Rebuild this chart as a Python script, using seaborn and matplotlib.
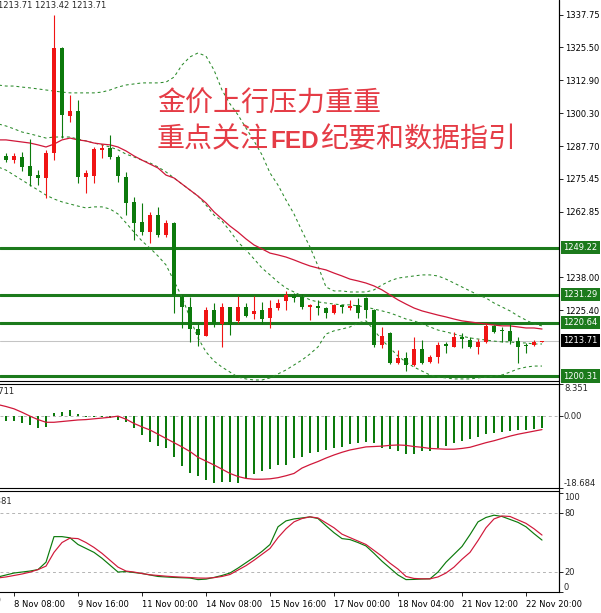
import numpy as np
import pandas as pd
import seaborn as sns
import matplotlib
matplotlib.use("Agg")
import matplotlib.pyplot as plt
from matplotlib.lines import Line2D
from matplotlib.transforms import blended_transform_factory

# XAUUSD H4 candles, bar -1 .. 67
opens = [1283.8, 1284.1, 1282.6, 1283.7, 1280.3, 1276.8, 1275.7, 1285.2, 1325.2, 1299.3,
         1301.2, 1276.1, 1276.5, 1286.4, 1287.1, 1283.7, 1276.1, 1266.6, 1258.9, 1255.1,
         1261.6, 1254.0, 1258.6, 1230.4, 1226.6, 1218.2, 1215.5, 1225.4, 1220.1, 1226.6,
         1221.2, 1226.6, 1223.9, 1225.4, 1222.4, 1226.2, 1228.9, 1230.8, 1230.4, 1226.6,
         1227.0, 1226.2, 1224.3, 1227.3, 1226.2, 1227.3, 1230.0, 1225.4, 1212.1, 1216.7,
         1205.3, 1207.2, 1204.5, 1210.6, 1205.6, 1207.5, 1212.5, 1211.4, 1215.2, 1214.0,
         1211.4, 1213.3, 1219.4, 1217.8, 1217.4, 1213.6, 1212.1, 1212.1, 1213.42]
highs = [1284.6, 1285.2, 1285.3, 1285.6, 1290.5, 1278.7, 1286.3, 1337.75, 1325.6, 1307.3,
         1305.4, 1278.7, 1287.5, 1288.6, 1292.1, 1284.4, 1278.0, 1268.5, 1266.2, 1262.7,
         1264.7, 1259.7, 1258.9, 1231.2, 1230.4, 1220.1, 1226.6, 1228.1, 1228.1, 1226.6,
         1230.8, 1228.1, 1230.8, 1228.5, 1229.2, 1229.6, 1232.7, 1231.9, 1231.6, 1227.7,
         1229.2, 1226.6, 1227.7, 1227.3, 1229.2, 1230.0, 1230.4, 1225.8, 1219.0, 1217.1,
         1210.2, 1209.4, 1215.2, 1214.0, 1208.3, 1213.3, 1213.3, 1217.1, 1216.7, 1215.2,
         1214.4, 1220.5, 1219.7, 1218.9, 1220.5, 1215.2, 1212.9, 1214.0, 1213.71]
lows = [1282.2, 1281.8, 1281.5, 1278.3, 1272.6, 1273.0, 1268.1, 1282.5, 1290.9, 1297.0,
        1273.8, 1270.0, 1273.8, 1283.3, 1282.9, 1274.2, 1261.6, 1252.1, 1254.0, 1250.9,
        1253.2, 1253.2, 1224.3, 1218.6, 1213.3, 1211.7, 1215.5, 1218.9, 1211.4, 1216.0,
        1220.5, 1222.8, 1222.0, 1220.1, 1218.6, 1225.4, 1225.4, 1228.5, 1225.8, 1221.6,
        1223.5, 1222.4, 1223.9, 1224.3, 1225.4, 1222.4, 1222.4, 1211.4, 1211.0, 1205.0,
        1205.0, 1202.2, 1204.1, 1205.0, 1205.3, 1205.3, 1209.1, 1211.4, 1211.0, 1211.0,
        1208.7, 1212.9, 1216.7, 1213.3, 1212.5, 1205.3, 1209.1, 1211.7, 1213.42]
closes = [1283.0, 1282.5, 1284.1, 1279.9, 1276.4, 1275.7, 1285.2, 1325.2, 1299.7, 1301.2,
          1276.1, 1277.6, 1286.7, 1287.1, 1283.7, 1276.5, 1266.2, 1258.6, 1255.1, 1261.6,
          1254.0, 1258.6, 1231.2, 1226.6, 1218.2, 1215.9, 1225.4, 1220.1, 1226.6, 1219.7,
          1226.6, 1223.2, 1225.1, 1222.0, 1226.2, 1228.1, 1231.2, 1230.0, 1226.6, 1227.3,
          1226.2, 1224.3, 1227.3, 1226.6, 1227.0, 1224.3, 1225.4, 1212.1, 1215.5, 1205.3,
          1207.2, 1204.5, 1210.6, 1205.3, 1207.5, 1212.1, 1211.7, 1215.2, 1214.4, 1211.4,
          1213.3, 1219.4, 1217.1, 1217.4, 1213.6, 1211.4, 1211.7, 1213.3, 1213.71]

# Bollinger bands and the slow moving average
bb_upper = [1311.1, 1310.7, 1310.7, 1310.3, 1310.0, 1309.6, 1309.2, 1308.8, 1308.4, 1308.1,
            1308.1, 1308.1, 1308.1, 1308.4, 1309.2, 1310.3, 1311.1, 1311.5, 1311.9, 1311.9,
            1311.9, 1312.2, 1314.1, 1318.7, 1321.8, 1323.3, 1322.1, 1316.8, 1309.2, 1303.9,
            1299.7, 1294.7, 1289.8, 1284.5, 1277.6, 1273.0, 1267.3, 1262.0, 1255.5, 1249.4,
            1242.2, 1234.2, 1232.7, 1232.7, 1232.3, 1232.3, 1232.3, 1233.1, 1235.0, 1236.5,
            1237.6, 1238.0, 1238.4, 1238.8, 1238.8, 1238.4, 1237.2, 1235.7, 1234.2, 1232.7,
            1231.2, 1230.0, 1228.1, 1226.6, 1225.1, 1223.2, 1221.6, 1220.1, 1219.4]
bb_middle = [1296.3, 1295.5, 1294.4, 1293.2, 1292.5, 1291.7, 1290.9, 1291.3, 1291.3, 1291.3,
             1290.5, 1289.8, 1289.0, 1288.3, 1287.5, 1286.4, 1284.8, 1283.7, 1282.5, 1281.4,
             1279.9, 1278.0, 1275.7, 1273.4, 1271.1, 1268.8, 1265.4, 1261.6, 1259.3, 1255.5,
             1251.3, 1248.3, 1244.9, 1241.4, 1238.8, 1236.1, 1233.8, 1232.3, 1230.8, 1229.3,
             1228.5, 1228.1, 1227.7, 1227.4, 1227.4, 1227.0, 1226.6, 1225.8, 1225.1, 1224.3,
             1223.2, 1222.0, 1221.3, 1220.1, 1219.0, 1217.8, 1217.1, 1216.3, 1215.5, 1214.8,
             1214.4, 1214.0, 1213.6, 1213.3, 1213.3, 1212.9, 1212.9, 1212.5, 1212.5]
bb_lower = [1279.9, 1278.7, 1276.8, 1274.9, 1273.0, 1271.1, 1269.2, 1267.7, 1266.6, 1265.8,
            1265.0, 1264.3, 1264.7, 1264.7, 1263.9, 1262.0, 1258.6, 1255.1, 1251.7, 1249.0,
            1246.0, 1242.6, 1236.5, 1230.4, 1222.4, 1214.8, 1209.5, 1206.0, 1203.7, 1201.8,
            1199.9, 1199.2, 1198.8, 1198.8, 1199.6, 1201.1, 1202.6, 1204.5, 1206.4, 1208.7,
            1211.4, 1216.3, 1217.5, 1218.2, 1219.0, 1220.5, 1221.3, 1217.8, 1214.0, 1211.0,
            1207.9, 1205.6, 1203.7, 1202.2, 1200.7, 1199.9, 1199.6, 1199.2, 1199.2, 1199.2,
            1199.6, 1199.9, 1200.3, 1200.7, 1201.8, 1203.0, 1203.7, 1204.1, 1204.1]
ma_slow = [1290.2, 1290.2, 1289.8, 1289.4, 1289.0, 1288.3, 1287.5, 1288.6, 1290.2, 1290.9,
           1290.2, 1289.8, 1289.0, 1288.6, 1288.3, 1287.5, 1286.0, 1284.1, 1282.5, 1281.0,
           1279.5, 1276.8, 1275.7, 1273.4, 1271.1, 1268.8, 1266.2, 1262.8, 1260.1, 1257.4,
           1255.1, 1252.5, 1250.2, 1248.7, 1247.1, 1246.4, 1245.6, 1244.5, 1243.3, 1242.2,
           1241.4, 1240.7, 1239.5, 1238.4, 1237.2, 1236.5, 1235.7, 1234.6, 1233.1, 1231.2,
           1229.3, 1227.7, 1226.2, 1225.1, 1224.3, 1223.5, 1222.8, 1222.0, 1221.3, 1220.9,
           1220.5, 1220.1, 1219.7, 1219.4, 1219.4, 1219.0, 1218.6, 1218.6, 1218.2]

# MACD histogram and signal line
macd_hist = [-1.0, -1.2, -1.2, -1.9, -2.3, -3.2, -2.8, 0.7, 1.1, 1.7,
             0.5, -0.2, -0.3, -0.3, -0.6, -0.9, -1.5, -3.2, -4.8, -6.7,
             -7.8, -8.4, -10.7, -13.0, -14.9, -15.6, -16.6, -17.5, -17.1, -17.1,
             -17.3, -16.2, -15.1, -14.2, -13.8, -12.7, -12.7, -11.0, -10.6, -9.5,
             -9.3, -8.9, -8.3, -8.0, -7.2, -7.0, -6.7, -7.1, -8.3, -8.5,
             -9.0, -9.8, -9.8, -9.0, -9.0, -8.2, -7.7, -6.9, -6.4, -5.9,
             -5.5, -4.7, -4.4, -4.0, -3.8, -3.6, -3.6, -3.3, -3.1]
macd_signal = [3.0, 2.5, 1.9, 1.0, 0.0, -0.9, -1.6, -1.6, -1.4, -1.2,
               -1.0, -0.9, -0.7, -0.5, -0.3, 0.0, -0.8, -1.9, -2.8, -3.6,
               -4.7, -5.8, -6.9, -8.0, -9.2, -10.7, -11.7, -12.7, -13.8, -14.9,
               -15.7, -16.2, -16.4, -16.4, -16.3, -16.0, -15.5, -14.9, -13.5, -12.6,
               -11.8, -10.9, -10.1, -9.4, -8.8, -8.4, -8.0, -7.9, -7.8, -7.6,
               -7.5, -7.6, -7.9, -8.1, -8.4, -8.5, -8.6, -8.6, -8.4, -8.1,
               -7.5, -6.9, -6.4, -5.8, -5.2, -4.7, -4.3, -3.9, -3.5]

# Stochastic %K / %D
stoch_k = [15.0, 17.0, 19.0, 20.0, 21.0, 22.5, 30.0, 56.0, 56.0, 54.8,
           48.0, 44.0, 40.0, 34.0, 27.0, 20.0, 20.5, 19.5, 18.5, 17.0,
           15.5, 15.0, 14.5, 14.2, 13.9, 12.3, 12.8, 14.5, 16.5, 19.0,
           24.0, 29.5, 35.0, 41.0, 48.0, 66.0, 72.0, 74.0, 75.0, 76.1,
           74.4, 67.0, 60.0, 54.0, 53.0, 50.0, 46.5, 39.0, 31.0, 24.0,
           17.0, 12.3, 12.5, 12.9, 13.1, 20.0, 30.0, 38.0, 46.0, 58.0,
           71.0, 75.5, 77.8, 76.5, 73.5, 70.5, 66.0, 59.0, 52.5]
stoch_d = [14.0, 15.0, 16.5, 18.0, 19.9, 22.5, 26.0, 40.0, 50.0, 54.5,
           54.0, 50.0, 45.0, 39.0, 32.0, 25.0, 21.0, 20.0, 18.5, 17.2,
           16.5, 15.8, 15.2, 14.8, 14.4, 13.9, 13.8, 14.3, 15.5, 17.5,
           22.0, 26.5, 32.0, 38.0, 44.0, 55.0, 64.0, 71.0, 74.4, 76.1,
           75.0, 70.0, 65.0, 58.5, 55.0, 51.5, 48.0, 42.0, 36.0, 29.0,
           23.0, 15.5, 13.5, 13.1, 13.1, 15.0, 19.0, 25.0, 33.0, 40.0,
           52.0, 65.0, 74.0, 77.0, 76.5, 73.0, 69.5, 64.0, 57.6]

levels = [1249.22, 1231.29, 1220.64, 1200.31]
last_price = 1213.71
price_ticks = [1337.75, 1325.50, 1312.90, 1300.30, 1287.70, 1275.45, 1262.85, 1238.00, 1225.40]
time_labels = ["8 Nov 08:00", "9 Nov 16:00", "11 Nov 00:00", "14 Nov 08:00", "15 Nov 16:00",
               "17 Nov 00:00", "18 Nov 04:00", "21 Nov 12:00", "22 Nov 20:00"]
time_label_bars = [1, 9, 17, 25, 33, 41, 49, 57, 65]

bars = np.arange(-1, len(opens) - 1)
df = pd.DataFrame({"bar": bars, "open": opens, "high": highs, "low": lows, "close": closes,
                   "bb_up": bb_upper, "bb_mid": bb_middle, "bb_low": bb_lower, "ma": ma_slow,
                   "macd": macd_hist, "signal": macd_signal, "k": stoch_k, "d": stoch_d})

# colours
CANDLE_RED = "#f01414"
CANDLE_GREEN = "#0c7a0c"
LEVEL_GREEN = "#1c7a1c"
BAND_GREEN = "#2a8a2a"
LINE_RED = "#d0183a"
TEXT_RED = "#e53c46"

W, H = 601, 613
sns.set_style("white")
plt.rcParams["font.family"] = ["DejaVu Sans"]

fig = plt.figure(figsize=(W / 100, H / 100), dpi=100)


def px_rect(x0, y0, x1, y1):
    return [x0 / W, 1 - y1 / H, (x1 - x0) / W, (y1 - y0) / H]


ax1 = fig.add_axes(px_rect(0, 0, 559, 381))
ax2 = fig.add_axes(px_rect(0, 384, 559, 488))
ax3 = fig.add_axes(px_rect(0, 491, 559, 592))

for ax in (ax1, ax2, ax3):
    ax.set_xlim(-0.75, 69.125)
    ax.set_facecolor("white")
    for side in ("top", "bottom", "right"):
        ax.spines[side].set_visible(True)
        ax.spines[side].set_color("black")
        ax.spines[side].set_linewidth(0.8)
    ax.spines["left"].set_visible(False)
    ax.yaxis.tick_right()
    ax.tick_params(axis="y", right=True, left=False, length=3, width=0.6, pad=1.5,
                   labelsize=6, colors="black")
    ax.set_xlabel("")
    ax.set_ylabel("")
ax1.spines["top"].set_visible(False)
for ax in (ax1, ax2):
    ax.set_xticks([])

# ---- main price panel ----
ax1.set_ylim(1198.41, 1343.46)
ax1.axhline(last_price, color="#c4c4c4", lw=0.75, zorder=0.5)
for lv in levels:
    ax1.axhline(lv, color=LEVEL_GREEN, lw=2.2, zorder=1)

for col, style in (("bb_up", (0, (2.8, 2.8))), ("bb_mid", (0, (2.8, 2.8))), ("bb_low", (0, (2.8, 2.8)))):
    sns.lineplot(data=df, x="bar", y=col, ax=ax1, color=BAND_GREEN, lw=0.75, linestyle=style)
sns.lineplot(data=df, x="bar", y="ma", ax=ax1, color=LINE_RED, lw=0.9)

up = df["close"] >= df["open"]
colors = np.where(up, CANDLE_RED, CANDLE_GREEN)
ax1.vlines(df["bar"], df["low"], df["high"], colors=colors, lw=0.8, zorder=3)
body_low = np.minimum(df["open"], df["close"])
body_h = np.maximum((df["close"] - df["open"]).abs(), 0.4)
ax1.bar(df["bar"], body_h, bottom=body_low, width=0.62, color=colors, linewidth=0, zorder=4)

ax1.set_yticks(price_ticks)
ax1.set_yticklabels([f"{v:.2f}" for v in price_ticks])
ax1.set_xlabel("")
ax1.set_ylabel("")

tr1 = blended_transform_factory(ax1.transAxes, ax1.transData)
for lv in levels:
    ax1.text(1.0 + 4.5 / 559, lv, f"{lv:.2f}", transform=tr1, ha="left", va="center",
             fontsize=6, color="white", clip_on=False,
             bbox=dict(boxstyle="square,pad=0.25", fc=LEVEL_GREEN, ec="none"))
ax1.text(1.0 + 4.5 / 559, last_price, f"{last_price:.2f}", transform=tr1, ha="left", va="center",
         fontsize=6, color="white", clip_on=False,
         bbox=dict(boxstyle="square,pad=0.25", fc="black", ec="none"))

# ---- MACD panel ----
ax2.set_ylim(-18.684, 8.351)
ax2.axhline(0, color="#b4b4b4", lw=0.7, ls=(0, (3, 3)), zorder=0.5)
ax2.bar(df["bar"], df["macd"], width=0.26, color=CANDLE_GREEN, linewidth=0)
sns.lineplot(data=df, x="bar", y="signal", ax=ax2, color=LINE_RED, lw=0.9)
ax2.set_yticks([8.351, 0, -18.684])
ax2.set_yticklabels([])
ax2.set_xlabel("")
ax2.set_ylabel("")
tr2 = blended_transform_factory(ax2.transAxes, ax2.transData)
ax2.text(1.0 + 5 / 559, 8.351, "8.351", transform=tr2, ha="left", va="top", fontsize=6, clip_on=False)
ax2.text(1.0 + 5 / 559, 0, "0.00", transform=tr2, ha="left", va="center", fontsize=6, clip_on=False)
ax2.text(1.0 + 5 / 559, -18.684, "-18.684", transform=tr2, ha="left", va="bottom", fontsize=6, clip_on=False)

# ---- Stochastic panel ----
ax3.set_ylim(-0.3, 102.4)
for lv in (20, 80):
    ax3.axhline(lv, color="#b4b4b4", lw=0.7, ls=(0, (3, 3)), zorder=0.5)
sns.lineplot(data=df, x="bar", y="k", ax=ax3, color=CANDLE_GREEN, lw=0.85)
sns.lineplot(data=df, x="bar", y="d", ax=ax3, color=LINE_RED, lw=0.85)
ax3.set_yticks([100, 80, 20, 0])
ax3.set_yticklabels([])
tr3 = blended_transform_factory(ax3.transAxes, ax3.transData)
ax3.text(1.0 + 5 / 559, 100, "100", transform=tr3, ha="left", va="top", fontsize=6, clip_on=False)
ax3.text(1.0 + 5 / 559, 80, "80", transform=tr3, ha="left", va="center", fontsize=6, clip_on=False)
ax3.text(1.0 + 5 / 559, 20, "20", transform=tr3, ha="left", va="center", fontsize=6, clip_on=False)
ax3.text(1.0 + 5 / 559, 0, "0", transform=tr3, ha="left", va="bottom", fontsize=6, clip_on=False)
ax3.set_xticks(time_label_bars)
ax3.set_xticklabels(time_labels, ha="left")
ax3.tick_params(axis="x", bottom=True, length=3, width=0.6, pad=2.5, labelsize=6, colors="black")
ax3.set_xlabel("")
ax3.set_ylabel("")
ax3.text(-7, -0.035, "7 Nov 00:00", transform=ax3.get_xaxis_transform(), ha="left", va="top",
         fontsize=6, clip_on=False)

# right price-scale border across all panels
fig.add_artist(Line2D([559 / W, 559 / W], [1 - 592 / H, 1], color="black", lw=0.8))

# window headers (partly cut off at the left edge)
fig.text(-2 / W, 1 - 5 / H, "1213.71 1213.42 1213.71", fontsize=6, va="center", ha="left")
fig.text(15 / W, 1 - 392 / H, "-5.3711", fontsize=6, va="center", ha="right")
fig.text(12 / W, 1 - 501 / H, "57.6381", fontsize=6, va="center", ha="right")

# Chinese headline with bold FED
cjk = ["Noto Sans CJK SC", "DejaVu Sans"]
renderer = fig.canvas.get_renderer()
fig.text(157 / W, 1 - 112 / H, "金价上行压力重重", color=TEXT_RED, fontsize=20.2,
         family=cjk, va="baseline", ha="left")
t = fig.text(157 / W, 1 - 147 / H, "重点关注", color=TEXT_RED, fontsize=20.2,
             family=cjk, va="baseline", ha="left")
x_end = t.get_window_extent(renderer).x1
t = fig.text((x_end + 1) / W, 1 - 148 / H, "FED", color=TEXT_RED, fontsize=17.5,
             family=["Liberation Sans", "DejaVu Sans"], weight="bold", va="baseline", ha="left")
x_end = t.get_window_extent(renderer).x1
fig.text((x_end + 1) / W, 1 - 147 / H, "纪要和数据指引", color=TEXT_RED, fontsize=20.2,
         family=cjk, va="baseline", ha="left")

fig.savefig("out.png", dpi=100)
